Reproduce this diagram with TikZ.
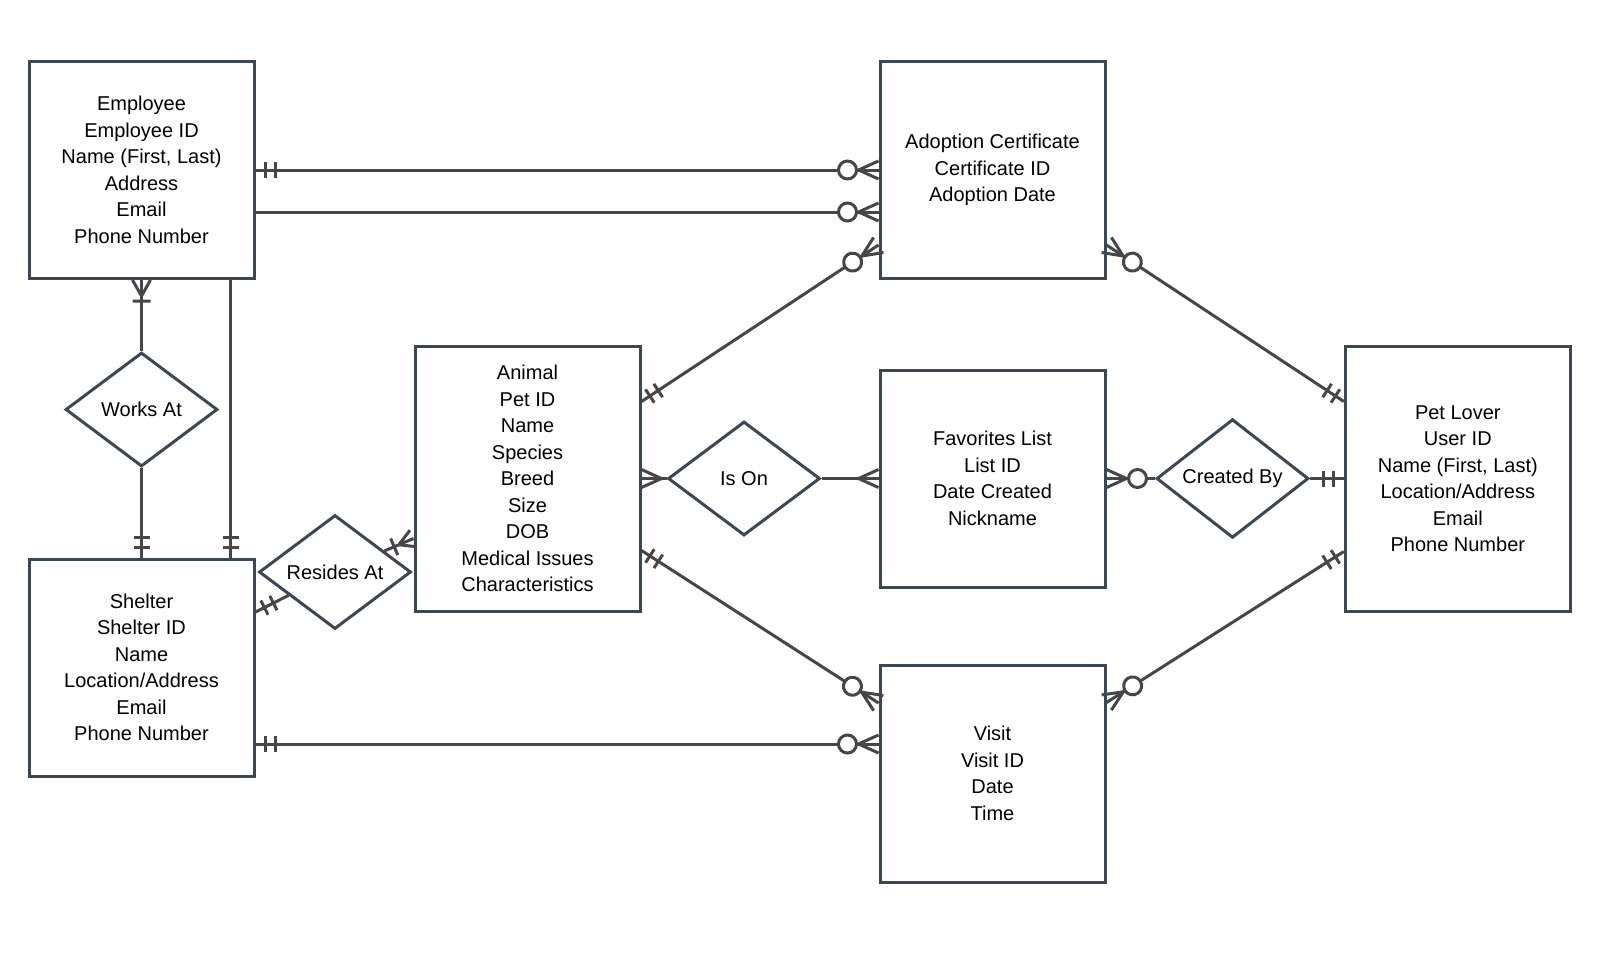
\documentclass[tikz,border=0pt]{standalone}
\usepackage{fontspec}
\setmainfont{Liberation Sans}
\usepackage{tikz}
\usetikzlibrary{calc,shapes.geometric,decorations.markings}

\definecolor{boxc}{RGB}{61,71,83}
\definecolor{linec}{RGB}{70,70,72}
\newcommand\erfont{\fontsize{10}{13.25}\selectfont}

% end marks, drawn with the entity border at the origin
\newcommand\tipone{\draw[tipmark] (-5pt,-4pt) -- (-5pt,4pt) (-10pt,-4pt) -- (-10pt,4pt);}
\newcommand\tipmany{\draw[tipmark] (0,4.5pt) -- (-10pt,0) -- (0,-4.5pt);}
\newcommand\tipzmany{\tipmany \draw[tipmark,fill=white] (-15.5pt,0) circle (4.5pt);}
\newcommand\tiponemany{\draw[tipmark] (0,4.5pt) -- (-8pt,0) -- (0,-4.5pt) (-10.5pt,-4.5pt) -- (-10.5pt,4.5pt);}

\tikzset{
  entity/.style={draw=boxc, line width=1.5pt, fill=white, minimum width=112.5pt,
    minimum height=108.5pt, align=center, font=\erfont},
  relation/.style={diamond, draw=boxc, line width=1.5pt, fill=white, minimum width=76pt,
    minimum height=57pt, inner sep=0pt, font=\erfont},
  link/.style={draw=linec, line width=1.5pt},
  tipmark/.style={draw=linec, line width=1.5pt},
  end mark/.style={postaction={decorate,decoration={markings,mark=at position 1 with {#1}}}},
  start mark/.style={postaction={decorate,decoration={markings,
    mark=at position 0 with {\begin{scope}[xscale=-1]#1\end{scope}}}}},
}

\begin{document}
\begin{tikzpicture}[x=0.5pt,y=-0.5pt]
  \useasboundingbox (0,0) rectangle (1598,966);

  % entities
  \node[entity] (emp) at (141.5,170) {Employee\\Employee ID\\Name (First, Last)\\Address\\Email\\Phone Number};
  \node[entity] (adopt) at (992.5,170) {Adoption Certificate\\Certificate ID\\Adoption Date};
  \node[entity, minimum height=132.5pt] (animal) at (527.5,478.5) {Animal\\Pet ID\\Name\\Species\\Breed\\Size\\DOB\\Medical Issues\\Characteristics};
  \node[entity] (fav) at (992.5,478.5) {Favorites List\\List ID\\Date Created\\Nickname};
  \node[entity, minimum height=132.5pt] (pet) at (1457.8,478.5) {Pet Lover\\User ID\\Name (First, Last)\\Location/Address\\Email\\Phone Number};
  \node[entity] (shelter) at (141.5,667.5) {Shelter\\Shelter ID\\Name\\Location/Address\\Email\\Phone Number};
  \node[entity] (visit) at (992.5,773.5) {Visit\\Visit ID\\Date\\Time};

  % relationships
  \node[relation] (works) at (141.5,409.5) {Works At};
  \node[relation] (resides) at (335,572) {Resides At};
  \node[relation] (ison) at (744,478.5) {Is On};
  \node[relation] (created) at (1232.5,478.5) {Created By};

  % connectors
  \draw[link, start mark=\tipone, end mark=\tipzmany] (emp.east) -- (adopt.west);
  \draw[link, end mark=\tipzmany] ($(emp.east)+(0,42)$) -- ($(adopt.west)+(0,42)$);
  \draw[link, end mark=\tiponemany] (works.north) -- (emp.south);
  \draw[link, end mark=\tipone] (works.south) -- (shelter.north);
  \draw[link, end mark=\tipone] ($(emp.south)+(89,0)$) -- ($(shelter.north)+(89,0)$);
  \draw[link, start mark=\tipone] ($(shelter.east)+(0,-55.5)$) -- (resides);
  \draw[link, end mark=\tiponemany] (resides) -- ($(animal.west)+(0,60)$);
  \draw[link, start mark=\tipone, end mark=\tipzmany] ($(animal.east)+(0,-77)$) -- ($(adopt.west)+(0,75)$);
  \draw[link, start mark=\tipzmany, end mark=\tipone] ($(adopt.east)+(0,75)$) -- ($(pet.west)+(0,-77)$);
  \draw[link, start mark=\tipmany] (animal.east) -- (ison.west);
  \draw[link, end mark=\tipmany] (ison.east) -- (fav.west);
  \draw[link, start mark=\tipzmany] (fav.east) -- (created.west);
  \draw[link, end mark=\tipone] (created.east) -- (pet.west);
  \draw[link, start mark=\tipone, end mark=\tipzmany] ($(animal.east)+(0,72)$) -- ($(visit.west)+(0,-70.5)$);
  \draw[link, start mark=\tipone, end mark=\tipzmany] ($(pet.west)+(0,73)$) -- ($(visit.east)+(0,-71)$);
  \draw[link, start mark=\tipone, end mark=\tipzmany] ($(shelter.east)+(0,76.5)$) -- ($(visit.west)+(0,-29.5)$);
\end{tikzpicture}
\end{document}
